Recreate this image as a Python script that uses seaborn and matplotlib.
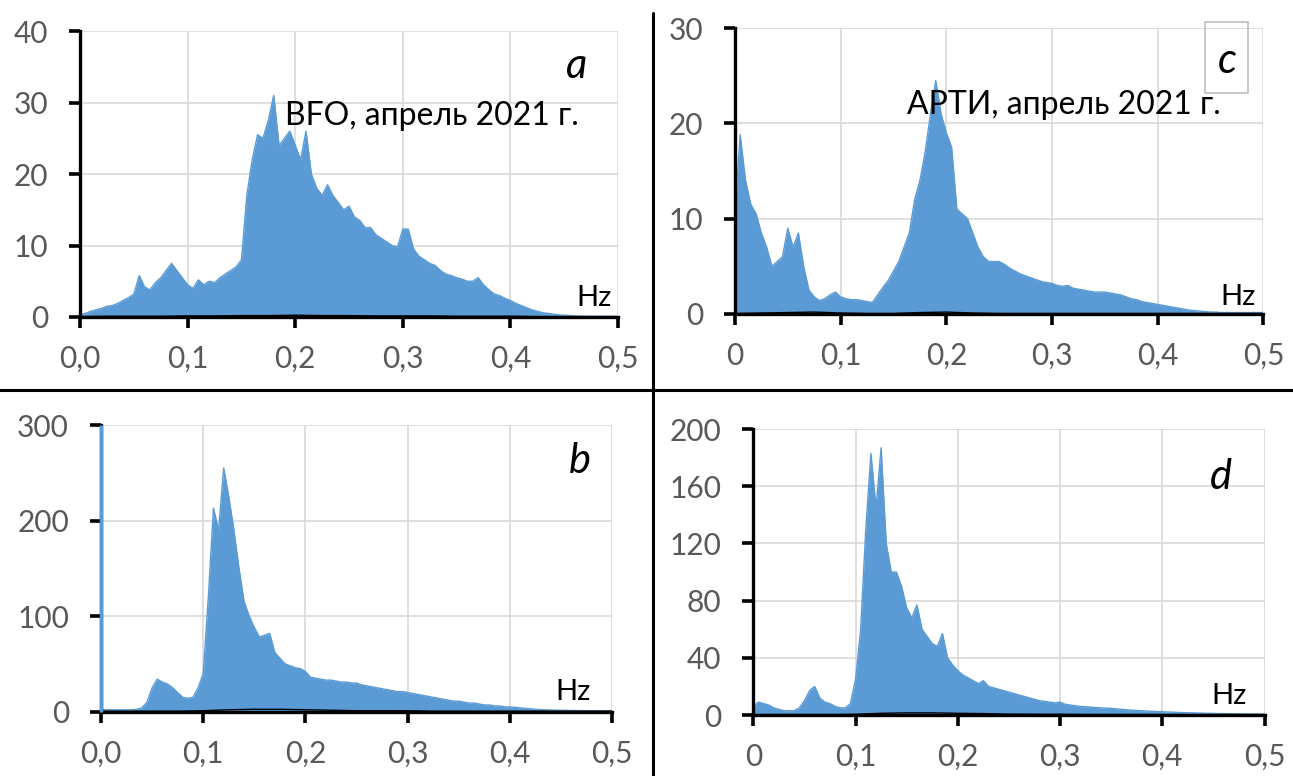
import numpy as np
import matplotlib.pyplot as plt
import seaborn as sns
from matplotlib.lines import Line2D
from matplotlib.patches import Rectangle

# frequency grids (Hz)
freq = np.round(np.arange(101) * 0.005, 3)
freq_black = np.round(np.arange(21) * 0.025, 3)

# upper envelope of the blue spectra, 0.005 Hz step
spec_a = [0.3, 0.5, 0.8, 1.0, 1.2, 1.5, 1.6, 1.9, 2.3, 2.7,
          3.2, 5.8, 4.2, 3.8, 4.8, 5.5, 6.5, 7.5, 6.5, 5.5,
          4.5, 4.0, 5.2, 4.5, 5.0, 4.8, 5.5, 6.0, 6.5, 7.0,
          8.0, 17.0, 22.0, 25.5, 25.0, 27.5, 31.0, 24.0, 25.0, 26.0,
          24.0, 22.0, 26.0, 20.0, 18.0, 17.0, 18.5, 17.0, 16.0, 15.0,
          15.5, 14.0, 13.5, 12.5, 12.5, 11.5, 11.0, 10.5, 10.0, 9.8,
          12.3, 12.3, 9.5, 8.5, 8.0, 7.5, 7.2, 6.5, 6.0, 5.8,
          5.5, 5.3, 5.0, 5.0, 5.5, 4.5, 3.8, 3.2, 3.0, 2.6,
          2.3, 1.9, 1.6, 1.3, 1.0, 0.8, 0.6, 0.5, 0.4, 0.3,
          0.25, 0.2, 0.15, 0.12, 0.1, 0.1, 0.1, 0.1, 0.1, 0.1,
          0.1]
spec_b = [2, 2, 2, 2, 2, 2, 2, 2.5, 4, 10,
          25, 34, 31, 29, 25, 20, 15, 14, 15, 25,
          40, 120, 213, 190, 255, 225, 190, 150, 115, 100,
          88, 78, 80, 82, 62, 56, 50, 48, 46, 45,
          42, 36, 35, 34, 33, 33, 32, 31, 31, 30,
          30, 28, 27, 26, 25, 24, 23, 22, 21, 21,
          20, 19, 18, 17, 16, 15, 14, 13, 12, 11,
          11, 10, 9, 9, 8, 7, 7, 6, 6, 5,
          5, 4.5, 4, 3.5, 3, 2.5, 2.2, 2, 1.8, 1.6,
          1.5, 1.4, 1.3, 1.2, 1.1, 1, 1, 1, 1, 1,
          1]
spec_c = [11.0, 18.8, 14.0, 11.5, 10.5, 8.5, 7.0, 5.0, 5.5, 6.0,
          9.0, 7.0, 8.5, 5.0, 2.5, 1.8, 1.4, 1.6, 2.0, 2.3,
          1.8, 1.6, 1.5, 1.5, 1.4, 1.3, 1.2, 2.0, 2.8, 3.5,
          4.5, 5.5, 7.0, 8.5, 12.0, 14.0, 17.0, 21.0, 24.5, 21.0,
          19.0, 17.5, 11.0, 10.5, 10.0, 8.5, 7.0, 6.0, 5.5, 5.5,
          5.5, 5.2, 4.8, 4.5, 4.2, 4.0, 3.8, 3.6, 3.4, 3.3,
          3.2, 3.0, 2.9, 3.0, 2.7, 2.6, 2.5, 2.4, 2.3, 2.3,
          2.3, 2.2, 2.1, 2.0, 1.8, 1.6, 1.5, 1.3, 1.2, 1.1,
          1.0, 0.9, 0.8, 0.7, 0.6, 0.5, 0.4, 0.35, 0.3, 0.25,
          0.2, 0.2, 0.15, 0.15, 0.15, 0.15, 0.15, 0.15, 0.15, 0.15,
          0.15]
spec_d = [6, 9, 8, 7, 5, 4, 3, 3, 3, 5,
          10, 17, 20, 12, 9, 8, 6, 5, 5, 8,
          25, 60, 130, 183, 145, 187, 120, 100, 100, 90,
          75, 68, 77, 60, 55, 50, 48, 57, 40, 35,
          31, 28, 26, 24, 22, 24, 20, 19, 18, 17,
          16, 15, 14, 13, 12, 11, 10, 9.5, 9, 8.5,
          9, 7.5, 7, 6.5, 6, 5.8, 5.5, 5.2, 5, 4.8,
          4.6, 4.3, 4, 3.7, 3.4, 3.2, 3, 2.8, 2.6, 2.4,
          2.3, 2.1, 2, 1.8, 1.7, 1.6, 1.5, 1.4, 1.3, 1.2,
          1.1, 1.0, 1.0, 0.9, 0.9, 0.8, 0.8, 0.7, 0.7, 0.6,
          0.6]
dc_peak_b = 300  # spike at 0 Hz in panel b

# black (second) series, hugging zero, 0.025 Hz step
black_a = [0.05, 0.1, 0.1, 0.1, 0.15, 0.15, 0.2, 0.2, 0.25, 0.2, 0.2,
           0.15, 0.15, 0.15, 0.1, 0.1, 0.1, 0.05, 0.05, 0.05, 0.05]
black_b = [0.5, 0.5, 0.5, 0.5, 1, 2, 2.5, 2.5, 2, 1.5, 1,
           1, 1, 0.5, 0.5, 0.5, 0.5, 0.5, 0.5, 0.5, 0.5]
black_c = [0.05, 0.1, 0.15, 0.2, 0.1, 0.05, 0.05, 0.15, 0.2, 0.1, 0.05,
           0.05, 0.05, 0.05, 0.05, 0.05, 0.05, 0.05, 0.05, 0.05, 0.05]
black_d = [0.3, 0.3, 0.3, 0.3, 0.5, 1.2, 1.5, 1.5, 1.2, 1, 0.6,
           0.5, 0.5, 0.3, 0.3, 0.3, 0.3, 0.3, 0.3, 0.3, 0.3]

xticks = [0.0, 0.1, 0.2, 0.3, 0.4, 0.5]
xlabels_ab = ['0,0', '0,1', '0,2', '0,3', '0,4', '0,5']
xlabels_cd = ['0', '0,1', '0,2', '0,3', '0,4', '0,5']
yticks_a = [0, 10, 20, 30, 40]
yticks_b = [0, 100, 200, 300]
yticks_c = [0, 10, 20, 30]
yticks_d = [0, 40, 80, 120, 160, 200]

blue = '#5b9bd5'
grey = '#595959'

sns.set_style('white')
plt.rcParams['font.family'] = ['Lato', 'Open Sans', 'DejaVu Sans']

fig = plt.figure(figsize=(12.93, 7.76), dpi=100)

panels = [
    # rect, spectrum, black, yticks, xlabels, letter, letter pos, hz pos
    ([0.0619, 0.5915, 0.4161, 0.3685], spec_a, black_a, yticks_a, xlabels_ab, 'a', (0.923, 0.878), (0.955, 0.066)),
    ([0.5684, 0.5954, 0.4087, 0.3685], spec_c, black_c, yticks_c, xlabels_cd, 'c', (0.931, 0.884), (0.952, 0.06)),
    ([0.0781, 0.0829, 0.3954, 0.3694], spec_b, black_b, yticks_b, xlabels_ab, 'b', (0.937, 0.874), (0.923, 0.069)),
    ([0.5826, 0.0786, 0.3954, 0.3684], spec_d, black_d, yticks_d, xlabels_cd, 'd', (0.914, 0.832), (0.93, 0.066)),
]

axes = {}
for rect, spec, black, yt, xl, letter, lpos, hzpos in panels:
    ax = fig.add_axes(rect)
    axes[letter] = ax
    ax.fill_between(freq, 0, spec, color=blue, lw=0, zorder=2)
    sns.lineplot(x=freq, y=spec, ax=ax, color=blue, lw=1.0, zorder=3)
    sns.lineplot(x=freq_black, y=black, ax=ax, color='black', lw=1.0, zorder=4)
    ax.set_xlim(0, 0.5)
    ax.set_ylim(yt[0], yt[-1])
    ax.set_xticks(xticks)
    ax.set_xticklabels(xl)
    ax.set_yticks(yt)
    ax.set_yticklabels([str(v) for v in yt])
    ax.grid(True, color='#d9d9d9', lw=1.2, zorder=0)
    ax.set_axisbelow(True)
    for s in ['top', 'right']:
        ax.spines[s].set_visible(False)
    for s in ['left', 'bottom']:
        ax.spines[s].set_color('black')
        ax.spines[s].set_linewidth(2.4)
        ax.spines[s].set_zorder(5)
    ax.tick_params(axis='x', bottom=True, direction='out', length=8, width=2.6, color='black',
                   labelsize=21.5, labelcolor=grey, pad=12)
    ax.tick_params(axis='y', left=True, direction='out', length=8, width=2.6, color='black',
                   labelsize=21.5, labelcolor=grey, pad=15)
    ax.set_xlabel('')
    ax.set_ylabel('')
    ax.text(lpos[0], lpos[1], letter, transform=ax.transAxes, ha='center', va='center',
            fontsize=30, style='italic', color='black', zorder=6)
    ax.text(hzpos[0], hzpos[1], 'Hz', transform=ax.transAxes, ha='center', va='center',
            fontsize=21, color='black', zorder=6)

axes['b'].vlines(freq[0], 0, dc_peak_b, color=blue, lw=2.5, zorder=6, clip_on=False)

axes['a'].text(0.381, 0.672, 'BFO, апрель 2021 г.', transform=axes['a'].transAxes,
               ha='left', va='baseline', fontsize=23, color='black', zorder=6)
axes['c'].text(0.325, 0.70, 'АРТИ, апрель 2021 г.', transform=axes['c'].transAxes,
               ha='left', va='baseline', fontsize=23, color='black', zorder=6)

# box around letter c
fig.add_artist(Rectangle((0.932, 0.880), 0.0333, 0.0915, transform=fig.transFigure,
                         fill=False, edgecolor='#bfbfbf', lw=1.2))

# separators between panels
fig.add_artist(Line2D([0, 1], [0.4974, 0.4974], transform=fig.transFigure, color='black', lw=2.2))
fig.add_artist(Line2D([0.505, 0.505], [0, 0.983], transform=fig.transFigure, color='black', lw=2.2))

fig.savefig('out.png', dpi=100)
